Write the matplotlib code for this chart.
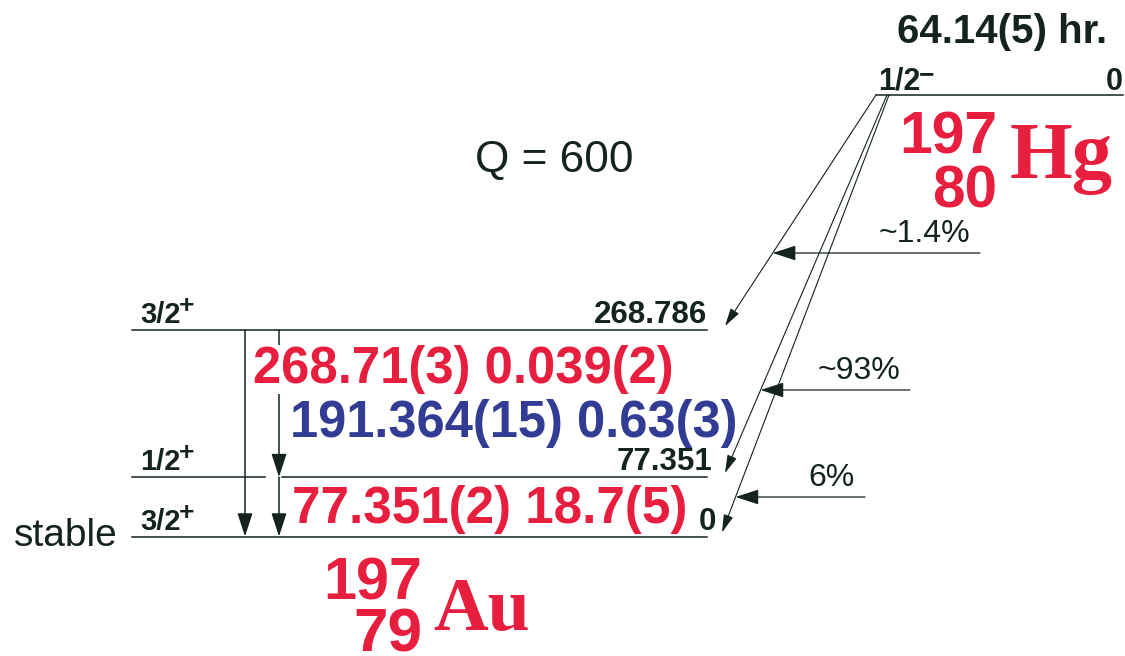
import matplotlib
matplotlib.use('Agg')

import matplotlib.pyplot as plt
from matplotlib import font_manager as fm

au_levels = [268.786, 77.351, 0.0]          # keV
au_level_labels = ['268.786', '77.351', '0']
au_spins = ['3/2', '1/2', '3/2']
au_parity = ['+', '+', '+']

gamma_from = [268.786, 268.786, 77.351]
gamma_to = [0.0, 77.351, 0.0]
gamma_text = ['268.71(3) 0.039(2)', '191.364(15) 0.63(3)', '77.351(2) 18.7(5)']

beta_to = [268.786, 77.351, 0.0]
beta_pct = ['~1.4%', '~93%', '6%']

parent_spin = '1/2'
parent_parity = '\u2212'
parent_energy = '0'
half_life = '64.14(5) hr.'
q_value = 600

RED = '#e81e3e'
BLUE = '#333c94'
DARK = '#14231f'

names = {f.name for f in fm.fontManager.ttflist}
NARROW = 'Liberation Sans Narrow' if 'Liberation Sans Narrow' in names else 'Liberation Sans'
SANS = 'Liberation Sans'
SERIF = 'Liberation Serif'

fig = plt.figure(figsize=(11.25, 6.56), dpi=100)
ax = fig.add_axes([0, 0, 1, 1])
ax.set_xlim(0, 1125)
ax.set_ylim(656, 0)
ax.axis('off')
R = fig.canvas.get_renderer()

# energy -> vertical position
Y0 = 536.5
PX_PER_KEV = (536.5 - 330.0) / 268.786


def ey(e):
    return Y0 - PX_PER_KEV * e


def fit(x, y, s, width, ha='left', size=20, **kw):
    # place text, then scale its size so it spans `width`
    t = ax.text(x, y, s, ha=ha, va='baseline', fontsize=size, **kw)
    w = t.get_window_extent(renderer=R).width
    t.set_fontsize(size * width / w)
    return t


def sup(t, s, size, dx=1, dy=0, va='top'):
    return ax.annotate(s, xy=(1, 1), xycoords=t, xytext=(dx, dy),
                       textcoords='offset points', ha='left', va=va,
                       fontsize=size, color=DARK, family=SANS, weight='bold')


# --- daughter levels (197Au) ---
X_LEFT, X_RIGHT = 132, 707
for e, lab, spin, par in zip(au_levels, au_level_labels, au_spins, au_parity):
    y = ey(e)
    if e == 77.351:
        ax.plot([X_LEFT, 265], [y, y], color=DARK, lw=1.1)
        ax.plot([282, X_RIGHT], [y, y], color=DARK, lw=1.1)
    else:
        ax.plot([X_LEFT, X_RIGHT], [y, y], color=DARK, lw=1.1)
    t = ax.text(140, y - 7, spin, ha='left', va='baseline', fontsize=21,
                color=DARK, family=SANS, weight='bold')
    sup(t, par, 19, dx=-1, dy=5)
    xr = X_RIGHT if e != 0 else 716
    xr = 712 if e == 77.351 else xr
    ax.text(xr, y - 7, lab, ha='right', va='baseline', fontsize=22.5,
            color=DARK, family=SANS, weight='bold')

ax.text(118, ey(0) + 9, 'stable', ha='right', va='baseline', fontsize=28,
        color=DARK, family=SANS)

# --- gamma transitions ---
gamma_x = [245, 279, 279]
for x, e1, e2 in zip(gamma_x, gamma_from, gamma_to):
    ax.annotate('', xy=(x, ey(e2)), xytext=(x, ey(e1)),
                arrowprops=dict(arrowstyle='-|>,head_length=0.4,head_width=0.13',
                                mutation_scale=36, lw=1.1, color=DARK,
                                shrinkA=0, shrinkB=0), zorder=1)

gamma_pos = [(253, 383, 420), (290, 437, 447), (292, 523, 395)]
gamma_col = [RED, BLUE, RED]
for (x, y, w), s, c in zip(gamma_pos, gamma_text, gamma_col):
    kw = {}
    if s.startswith('268'):
        kw['bbox'] = dict(fc='white', ec='none', pad=0)
    fit(x, y, s, w, size=36, color=c, family=NARROW, weight='bold', zorder=3, **kw)

# --- parent level (197Hg) ---
HG_Y = 95
ax.plot([876, 1123], [HG_Y, HG_Y], color=DARK, lw=1.1)
t = ax.text(878, HG_Y - 5, parent_spin, ha='left', va='baseline', fontsize=22,
            color=DARK, family=SANS, weight='bold')
sup(t, parent_parity, 19, dx=-1, dy=3)
ax.text(1123, HG_Y - 5, parent_energy, ha='right', va='baseline', fontsize=22,
        color=DARK, family=SANS, weight='bold')
fit(897, 43, half_life, 211, size=26, color=DARK, family=SANS, weight='bold')
fit(475, 172, f'Q = {q_value}', 158, size=28, color=DARK, family=SANS)

# --- beta branches ---
beta_start = [876, 887, 889]
beta_tip_x = [725, 725, 722]
pct_y = [253, 390, 497]
pct_xr = [980, 910, 865]
for xs, xt, e, py, pxr, pct in zip(beta_start, beta_tip_x, beta_to, pct_y, pct_xr, beta_pct):
    yt = ey(e) - 4
    ax.annotate('', xy=(xt, yt), xytext=(xs, HG_Y),
                arrowprops=dict(arrowstyle='-|>,head_length=0.55,head_width=0.15',
                                mutation_scale=20, lw=0.8, color=DARK,
                                shrinkA=0, shrinkB=0))
    # where the intensity arrow meets the beta line
    xi = xs + (xt - xs) * (py - HG_Y) / (yt - HG_Y)
    ax.annotate('', xy=(xi, py), xytext=(pxr, py),
                arrowprops=dict(arrowstyle='-|>,head_length=0.4,head_width=0.13',
                                mutation_scale=36, lw=0.9, color=DARK,
                                shrinkA=0, shrinkB=0))
    ax.text(pxr - 10, py - 11, pct, ha='right', va='baseline', fontsize=23,
            color=DARK, family=SANS)

# --- nuclide symbols ---
fit(997, 153, '197', 98, ha='right', size=44, color=RED, family=SANS, weight='bold')
fit(997, 208, '80', 65, ha='right', size=44, color=RED, family=SANS, weight='bold')
fit(1010, 178, 'Hg', 103, size=60, color=RED, family=SERIF, weight='bold')

fit(422, 600, '197', 99, ha='right', size=44, color=RED, family=SANS, weight='bold')
fit(422, 651, '79', 69, ha='right', size=44, color=RED, family=SANS, weight='bold')
fit(433, 630, 'Au', 97, size=60, color=RED, family=SERIF, weight='bold')

fig.savefig('out.png', dpi=100)
